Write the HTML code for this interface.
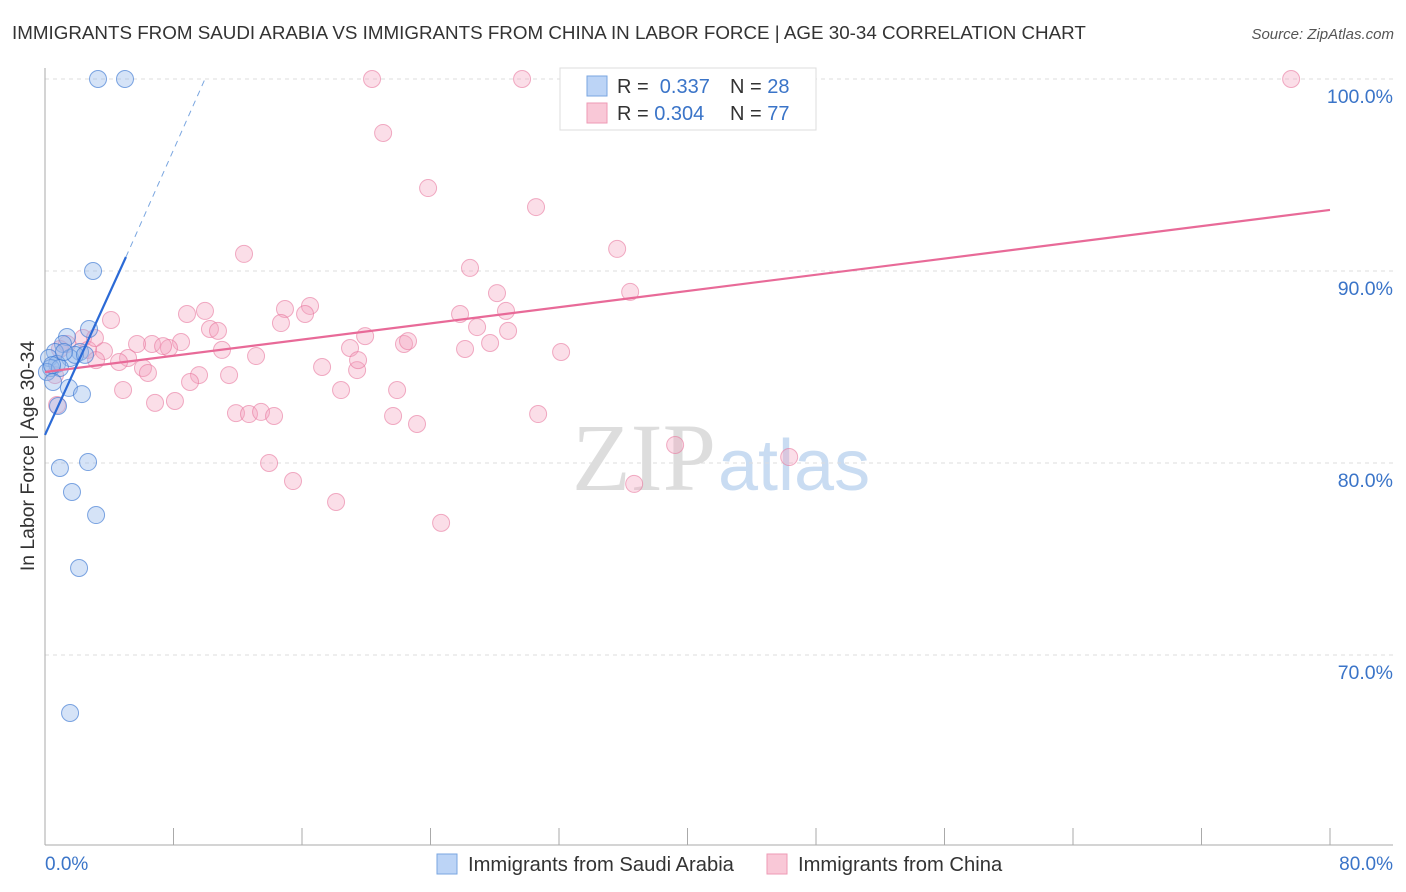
<!DOCTYPE html>
<html><head><meta charset="utf-8"><style>
body{margin:0;background:#fff;font-family:"Liberation Sans",sans-serif;}
svg{display:block}
</style></head><body>
<svg id="chart" width="1406" height="892" xmlns="http://www.w3.org/2000/svg">
<text x="12" y="39" font-size="18.8" fill="#333">IMMIGRANTS FROM SAUDI ARABIA VS IMMIGRANTS FROM CHINA IN LABOR FORCE | AGE 30-34 CORRELATION CHART</text>
<text x="1394" y="39" font-size="15" fill="#555" text-anchor="end" font-style="italic">Source: ZipAtlas.com</text>
<text x="716" y="490" font-size="96" fill="#ddd" text-anchor="end" font-family="Liberation Serif">ZIP</text>
<text x="718" y="490" font-size="72" fill="#c9dcf2">atlas</text>
<g id="grid"></g>
<g id="axes"></g>
<g id="pts"></g>
<g id="trends"></g>
<text transform="translate(34,456) rotate(-90)" font-size="19.4" fill="#333" text-anchor="middle">In Labor Force | Age 30-34</text>
<text x="45" y="870" font-size="19" fill="#3a74c8">0.0%</text>
<text x="1393" y="870" font-size="19" fill="#3a74c8" text-anchor="end">80.0%</text>
<g>
<rect x="560" y="68" width="256" height="62" fill="#fff" stroke="#ddd"/>
<rect x="587" y="76" width="20" height="20" fill="#bcd4f6" stroke="#7aa6e0"/>
<rect x="587" y="103" width="20" height="20" fill="#f9c8d7" stroke="#ee9ab4"/>
<text x="617" y="93" font-size="20" fill="#333">R = <tspan fill="#3a74c8">&#160;0.337</tspan><tspan x="730">N = </tspan><tspan fill="#3a74c8">28</tspan></text>
<text x="617" y="120" font-size="20" fill="#333">R = <tspan fill="#3a74c8">0.304</tspan><tspan x="730">N = </tspan><tspan fill="#3a74c8">77</tspan></text>
</g>
<g>
<rect x="437" y="854" width="20" height="20" fill="#bcd4f6" stroke="#7aa6e0"/>
<text x="468" y="871" font-size="20.2" fill="#333">Immigrants from Saudi Arabia</text>
<rect x="767" y="854" width="20" height="20" fill="#f9c8d7" stroke="#ee9ab4"/>
<text x="798" y="871" font-size="20.2" fill="#333">Immigrants from China</text>
</g>
</svg>
<script>
const blueX=[3.30,4.98,2.99,2.74,1.37,1.12,2.18,0.62,0.25,1.56,0.75,0.37,0.12,0.93,0.50,1.49,2.30,0.81,0.93,2.68,1.68,3.18,2.12,1.56,1.87,1.18,2.49,0.44];
const blueY=[100,100,90,86.98,86.56,86.2,85.78,85.78,85.47,85.47,85.16,84.95,84.74,84.95,84.22,83.91,83.59,82.97,79.74,80.05,78.49,77.29,74.53,66.98,85.63,85.78,85.63,85.10];
const pinkX=[20.36,29.70,32.94,77.58,21.05,23.85,30.57,12.39,35.62,26.46,28.14,36.43,4.11,8.84,9.96,14.94,16.50,16.19,14.69,25.84,28.70,26.90,28.83,10.27,10.77,19.93,6.66,5.73,8.47,7.72,7.35,3.67,2.37,1.37,2.68,5.17,4.61,3.18,11.02,13.14,18.99,22.35,22.60,26.15,27.71,32.13,17.25,19.43,19.49,6.10,6.41,9.59,9.03,11.46,18.43,21.92,4.86,6.85,8.09,11.89,12.70,13.45,14.26,21.67,23.16,30.70,13.95,15.44,18.12,24.66,36.68,39.23,46.33,0.93,0.62,0.75,3.11];
const pinkY=[100,100,100,100,97.19,94.32,93.33,90.89,91.15,90.16,88.85,88.91,87.45,87.76,87.92,88.02,88.18,87.76,87.29,87.76,87.92,87.08,86.88,86.98,86.88,86.61,86.20,86.20,86.30,85.99,86.09,85.83,86.51,86.20,85.89,85.47,85.26,85.36,85.89,85.57,85.99,86.20,86.35,85.94,86.25,85.78,85.00,84.84,85.36,84.95,84.69,84.58,84.22,84.58,83.80,83.80,83.80,83.13,83.23,82.60,82.55,82.66,82.45,82.45,82.03,82.55,80.00,79.06,77.97,76.88,78.91,80.94,80.31,85.94,84.58,83.02,86.51];
const yTicks=[100,90,80,70];
const xTicks=[0,8,16,24,32,40,48,56,64,72,80];
const pinkTrend=[0,84.74,80,93.18];
const blueTrend=[0,81.46,5.04,90.73,9.96,100];
const NS="http://www.w3.org/2000/svg";
const X=v=>45+v/80*1285, Y=v=>79+(100-v)*19.2;
function mk(t,a,p){const e=document.createElementNS(NS,t);for(const k in a)e.setAttribute(k,a[k]);p.appendChild(e);return e;}
const grid=document.getElementById('grid'),axes=document.getElementById('axes'),pts=document.getElementById('pts'),tr=document.getElementById('trends');
yTicks.forEach(v=>{
 const l=mk('line',{x1:45,x2:1393,y1:Y(v),y2:Y(v),stroke:'#ddd','stroke-dasharray':'4,4'},grid);
 
 
 const t=mk('text',{x:1393,y:Y(v)+24,'font-size':19.5,fill:'#3a74c8','text-anchor':'end'},grid);t.textContent=v.toFixed(1)+'%';
 
 
});
let a=mk('line',{x1:45,x2:45,y1:68,y2:845,stroke:'#aaa'},axes);


a=mk('line',{x1:45,x2:1393,y1:845,y2:845,stroke:'#aaa'},axes);


xTicks.forEach(v=>{const l=mk('line',{x1:X(v),x2:X(v),y1:828,y2:845,stroke:'#aaa'},axes);
 
 });
pinkX.forEach((v,i)=>{const c=mk('circle',{cx:X(v),cy:Y(pinkY[i]),r:8.5,fill:'rgba(244,160,188,0.35)',stroke:'rgba(232,120,158,0.6)','stroke-width':1},pts);
 
 });
blueX.forEach((v,i)=>{const c=mk('circle',{cx:X(v),cy:Y(blueY[i]),r:8.5,fill:'rgba(150,185,235,0.4)',stroke:'rgba(60,120,210,0.65)','stroke-width':1},pts);
 
 });
let l=mk('line',{x1:X(pinkTrend[0]),y1:Y(pinkTrend[1]),x2:X(pinkTrend[2]),y2:Y(pinkTrend[3]),stroke:'#e86a98','stroke-width':2.2},tr);


l=mk('line',{x1:X(blueTrend[0]),y1:Y(blueTrend[1]),x2:X(blueTrend[2]),y2:Y(blueTrend[3]),stroke:'#2b6ad6','stroke-width':2.2},tr);


l=mk('line',{x1:X(blueTrend[2]),y1:Y(blueTrend[3]),x2:X(blueTrend[4]),y2:Y(blueTrend[5]),stroke:'#7aa6e0','stroke-width':1,'stroke-dasharray':'6,5'},tr);


</script>
</body></html>
